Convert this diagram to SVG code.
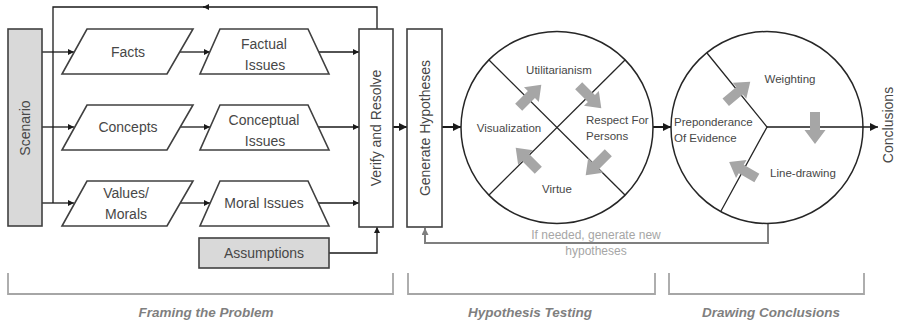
<svg xmlns="http://www.w3.org/2000/svg" width="897" height="323" viewBox="0 0 897 323">
<defs>
<marker id="ah" viewBox="0 0 10 10" refX="10" refY="5" markerWidth="6" markerHeight="6" markerUnits="userSpaceOnUse" orient="auto"><path d="M0,0 L10,5 L0,10 z" fill="#1a1a1a"/></marker>
<marker id="ahb" viewBox="0 0 10 10" refX="10" refY="5" markerWidth="8" markerHeight="8" markerUnits="userSpaceOnUse" orient="auto"><path d="M0,0 L10,5 L0,10 z" fill="#1a1a1a"/></marker>
<marker id="ahg" viewBox="0 0 10 10" refX="10" refY="5" markerWidth="7" markerHeight="7" markerUnits="userSpaceOnUse" orient="auto"><path d="M0,0 L10,5 L0,10 z" fill="#7f7f7f"/></marker>
<path id="blk" d="M-16,-5 L2,-5 L2,-10.5 L16,0 L2,10.5 L2,5 L-16,5 z"/>
</defs>
<style>
text{font-family:"Liberation Sans",Arial,sans-serif;fill:#474747;}
.t14{font-size:14px;text-anchor:middle;}
.t12{font-size:11.5px;}
.c{text-anchor:middle;}
.box{fill:#fff;stroke:#404040;stroke-width:1.6;}
.gbox{fill:#d9d9d9;stroke:#404040;stroke-width:1.6;}
.circ{fill:#fff;stroke:#262626;stroke-width:1.5;}
.ln{fill:none;stroke:#262626;stroke-width:1.3;}
.con{fill:none;stroke:#1a1a1a;stroke-width:1.3;}
.thick{fill:none;stroke:#1a1a1a;stroke-width:2;}
.fb{fill:none;stroke:#7f7f7f;stroke-width:2;}
.br{fill:none;stroke:#a6a6a6;stroke-width:1.8;}
.lab{font-size:13.5px;font-weight:bold;font-style:italic;fill:#7f7f7f;text-anchor:middle;}
.ga{fill:#a6a6a6;}
.fbt{font-size:12px;fill:#a6a6a6;text-anchor:middle;}
</style>

<g id="connectors">
<path class="con" d="M377,29 V7 H203" marker-end="url(#ah)"/>
<path class="con" d="M205,7 H53 V203"/>
<path class="con" d="M42,52 H74" marker-end="url(#ah)"/>
<path class="con" d="M42,127 H74" marker-end="url(#ah)"/>
<path class="con" d="M42,203 H74" marker-end="url(#ah)"/>
<path class="con" d="M180,52 H210" marker-end="url(#ah)"/>
<path class="con" d="M180,127 H210" marker-end="url(#ah)"/>
<path class="con" d="M180,203 H210" marker-end="url(#ah)"/>
<path class="con" d="M318,52 H359" marker-end="url(#ah)"/>
<path class="con" d="M318,127 H359" marker-end="url(#ah)"/>
<path class="con" d="M318,203 H359" marker-end="url(#ah)"/>
<path class="con" d="M329,253 H377 V227" marker-end="url(#ah)"/>
<path class="thick" d="M393,127 H407" marker-end="url(#ahb)"/>
<path class="thick" d="M442,127 H461" marker-end="url(#ahb)"/>
<path class="thick" d="M653,127 H671" marker-end="url(#ahb)"/>
<path class="fb" d="M768,223 V243 H425 V228" marker-end="url(#ahg)"/>
</g>

<g id="scenario">
<rect class="gbox" x="8" y="29" width="34" height="197"/>
<text class="t14" transform="translate(30,128) rotate(-90)">Scenario</text>
</g>

<g id="facts">
<polygon class="box" points="87,29 193,29 167,74 62,74"/>
<text class="t14" x="128" y="57">Facts</text>
</g>
<g id="concepts">
<polygon class="box" points="87,105 193,105 167,150 62,150"/>
<text class="t14" x="128" y="132">Concepts</text>
</g>
<g id="values">
<polygon class="box" points="87,181 193,181 167,226 62,226"/>
<text class="t14" x="126" y="198">Values/</text>
<text class="t14" x="126" y="219">Morals</text>
</g>

<g id="factual">
<polygon class="box" points="220,29 308,29 329,74 200,74"/>
<text class="t14" x="264" y="49">Factual</text>
<text class="t14" x="265" y="70">Issues</text>
</g>
<g id="conceptual">
<polygon class="box" points="220,105 308,105 329,150 200,150"/>
<text class="t14" x="264" y="125">Conceptual</text>
<text class="t14" x="265" y="146">Issues</text>
</g>
<g id="moral">
<polygon class="box" points="220,181 308,181 329,226 200,226"/>
<text class="t14" x="264" y="208">Moral Issues</text>
</g>

<g id="assumptions">
<rect class="gbox" x="199" y="238" width="130" height="30"/>
<text class="t14" x="264" y="258">Assumptions</text>
</g>

<g id="verify">
<rect class="box" x="359" y="29" width="34" height="198"/>
<text class="t14" transform="translate(381,128) rotate(-90)">Verify and Resolve</text>
</g>

<g id="generate">
<rect class="box" x="407" y="29" width="35" height="198"/>
<text class="t14" transform="translate(429.5,128) rotate(-90)">Generate Hypotheses</text>
</g>

<g id="hypothesis-circle">
<circle class="circ" cx="557" cy="127.5" r="96"/>
<line class="ln" x1="489" y1="60" x2="625" y2="195"/>
<line class="ln" x1="625" y1="60" x2="489" y2="195"/>
<text class="t12 c" x="559" y="74">Utilitarianism</text>
<text class="t12 c" x="509" y="132">Visualization</text>
<text class="t12" x="586" y="124">Respect For</text>
<text class="t12" x="586" y="140">Persons</text>
<text class="t12 c" x="557" y="193">Virtue</text>
<use href="#blk" class="ga" transform="translate(530,96) rotate(-45)"/>
<use href="#blk" class="ga" transform="translate(590,97) rotate(45)"/>
<use href="#blk" class="ga" transform="translate(597,164) rotate(135)"/>
<use href="#blk" class="ga" transform="translate(527,159) rotate(-135)"/>
</g>

<g id="conclusion-circle">
<circle class="circ" cx="767" cy="127.5" r="96"/>
<path class="ln" d="M707,53 L767,127 L721,211"/>
<path class="con" d="M767,127 H878" marker-end="url(#ahb)"/>
<text class="t12 c" x="790" y="83">Weighting</text>
<text class="t12" x="674" y="126">Preponderance</text>
<text class="t12" x="674" y="142">Of Evidence</text>
<text class="t12 c" x="803" y="177">Line-drawing</text>
<use href="#blk" class="ga" transform="translate(738,92) rotate(-40)"/>
<use href="#blk" class="ga" transform="translate(815,128) rotate(90)"/>
<use href="#blk" class="ga" transform="translate(743,170) rotate(-150)"/>
</g>

<g id="conclusions">
<text class="t14" transform="translate(893,125) rotate(-90)">Conclusions</text>
</g>

<g id="feedback-label">
<text class="fbt" x="596" y="239">If needed, generate new</text>
<text class="fbt" x="596" y="255">hypotheses</text>
</g>

<g id="brackets">
<path class="br" d="M8,273 V294 H393 V273"/>
<path class="br" d="M408,273 V294 H655 V273"/>
<path class="br" d="M669,273 V294 H864 V273"/>
<text class="lab" x="206" y="317">Framing the Problem</text>
<text class="lab" x="530" y="317">Hypothesis Testing</text>
<text class="lab" x="771" y="317">Drawing Conclusions</text>
</g>
</svg>
